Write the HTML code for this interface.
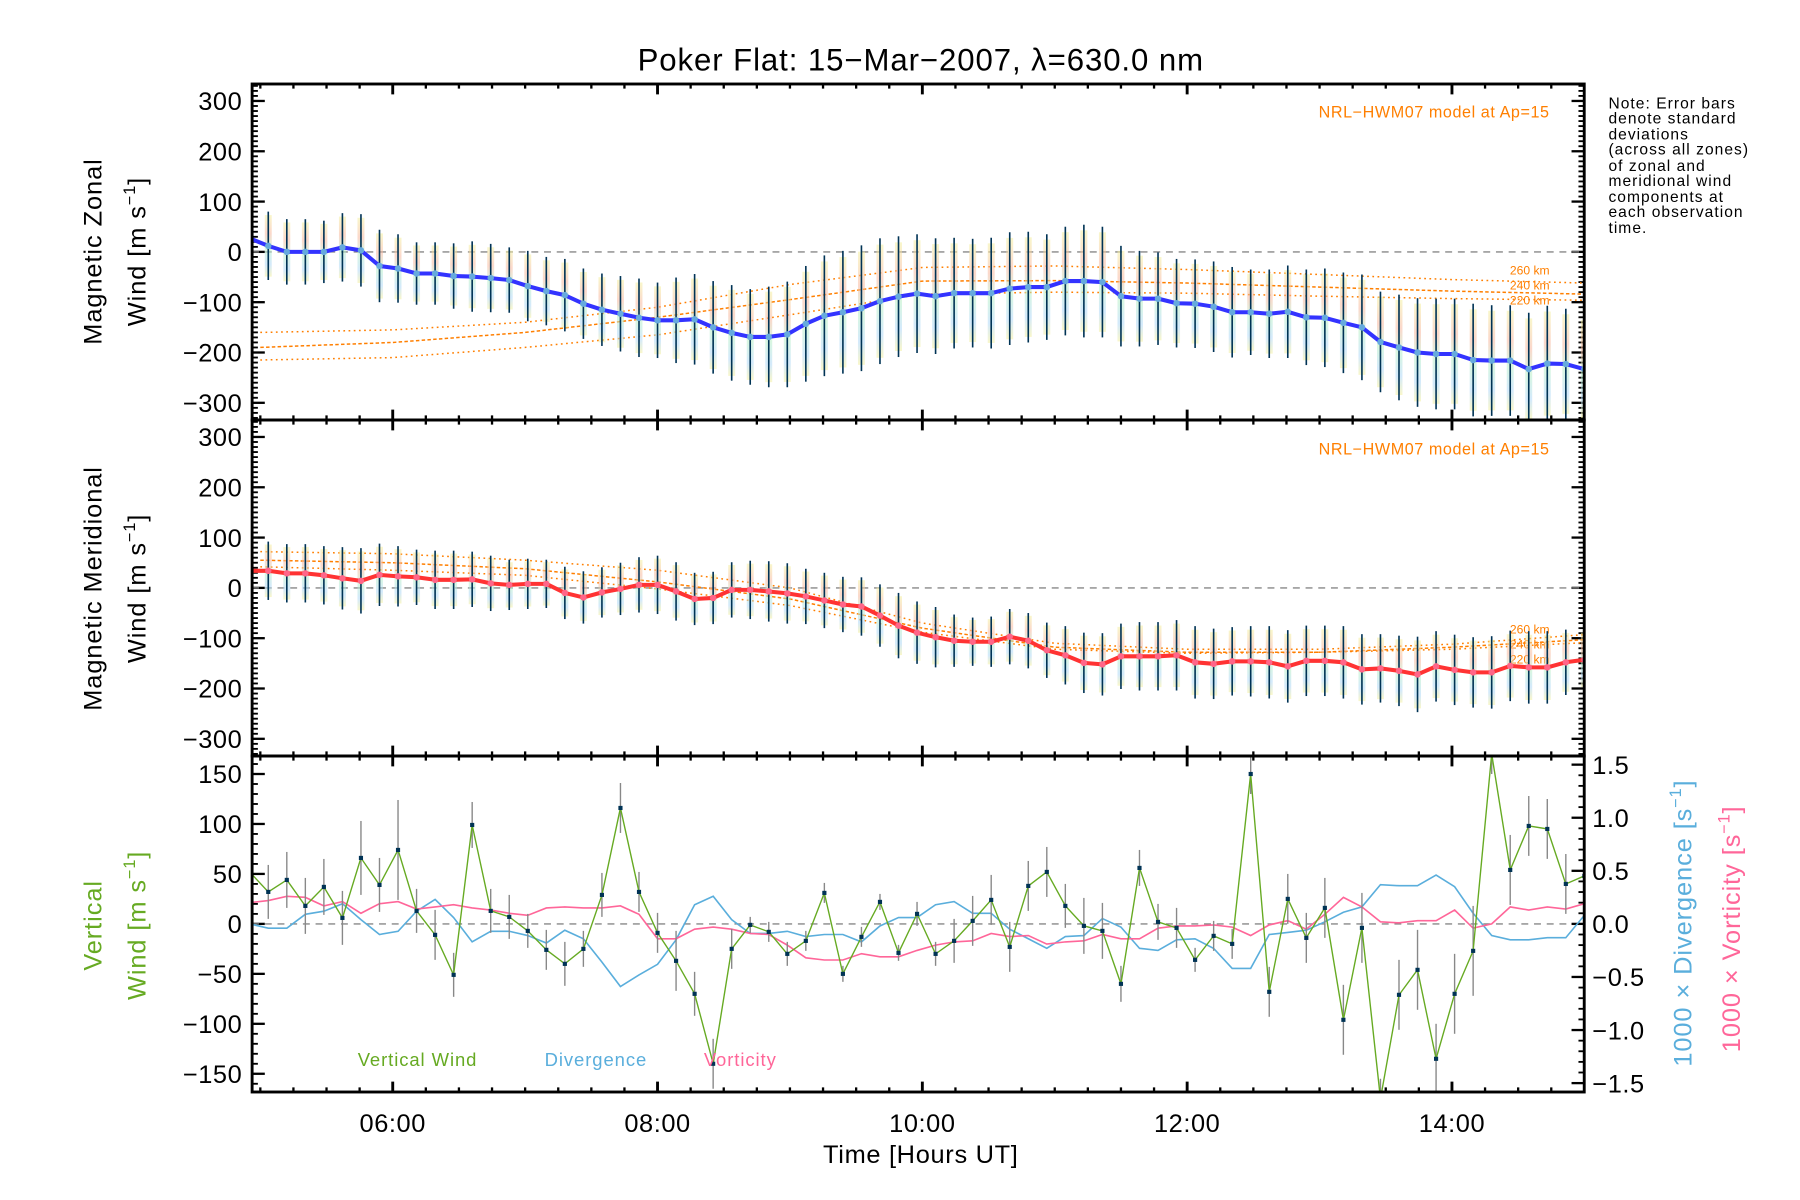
<!DOCTYPE html>
<html><head><meta charset="utf-8"><style>
html,body{margin:0;padding:0;background:#fff;}
svg{display:block;font-family:"Liberation Sans",sans-serif;}
</style></head><body>
<svg id="chart" width="1800" height="1200" viewBox="0 0 1560 1040" xmlns="http://www.w3.org/2000/svg">
<defs>
<linearGradient id="pastel" x1="0" y1="0" x2="0" y2="1">
<stop offset="0" stop-color="#f4f0a0"/><stop offset="0.3" stop-color="#f8b8a0"/><stop offset="0.55" stop-color="#b8f0c8"/><stop offset="0.8" stop-color="#b0d8f8"/><stop offset="1" stop-color="#f4f0a0"/>
</linearGradient>
<clipPath id="c1"><rect x="218.5" y="72.8" width="1154.5" height="291.2"/></clipPath>
<clipPath id="c2"><rect x="218.5" y="364" width="1154.5" height="291.2"/></clipPath>
<clipPath id="c3"><rect x="218.5" y="655.2" width="1154.5" height="291.2"/></clipPath>
</defs>
<text x="798" y="61" font-size="27" text-anchor="middle" letter-spacing="0.8">Poker Flat: 15−Mar−2007, λ=630.0 nm</text>
<g font-size="13.5" letter-spacing="0.9">
<text x="1394" y="94">Note: Error bars</text><text x="1394" y="107">denote standard</text><text x="1394" y="121">deviations</text><text x="1394" y="134">(across all zones)</text><text x="1394" y="148">of zonal and</text><text x="1394" y="161">meridional wind</text><text x="1394" y="175">components at</text><text x="1394" y="188">each observation</text><text x="1394" y="202">time.</text>
</g>
<g id="plots"></g>
<text x="798" y="1008" font-size="22" text-anchor="middle" letter-spacing="0.6">Time [Hours UT]</text>
</svg>
<script>
const times=[4.92,5.06,5.20,5.34,5.48,5.62,5.76,5.90,6.04,6.18,6.32,6.46,6.60,6.74,6.88,7.02,7.16,7.30,7.44,7.58,7.72,7.86,8.00,8.14,8.28,8.42,8.56,8.70,8.84,8.98,9.12,9.26,9.40,9.54,9.68,9.82,9.96,10.10,10.24,10.38,10.52,10.66,10.80,10.94,11.08,11.22,11.36,11.50,11.64,11.78,11.92,12.06,12.20,12.34,12.48,12.62,12.76,12.90,13.04,13.18,13.32,13.46,13.60,13.74,13.88,14.02,14.16,14.30,14.44,14.58,14.72,14.86,15.00];
const zonal=[27,12,0,0,0,9,3,-28,-33,-43,-43,-48,-49,-52,-56,-68,-78,-86,-103,-115,-123,-131,-136,-136,-134,-150,-161,-169,-169,-164,-143,-127,-120,-112,-98,-89,-83,-88,-82,-82,-82,-73,-70,-70,-58,-58,-60,-88,-93,-93,-102,-103,-109,-120,-120,-123,-119,-130,-131,-141,-150,-179,-190,-200,-203,-203,-215,-216,-216,-233,-222,-223,-233];
const zonalErr=[70,68,65,65,62,68,72,72,68,62,62,65,70,68,65,70,68,72,70,72,75,78,75,85,90,92,95,95,100,105,115,120,122,125,125,120,118,115,110,108,110,112,110,105,108,112,110,100,95,92,88,88,90,90,85,88,92,95,98,100,105,100,105,108,110,110,112,110,110,112,115,110,108];
const merid=[34,34,29,29,25,19,14,26,23,21,16,16,17,9,6,8,8,-10,-19,-9,-2,6,6,-7,-22,-20,-4,-4,-7,-11,-17,-25,-33,-37,-55,-75,-89,-98,-105,-107,-107,-97,-105,-124,-134,-149,-152,-136,-136,-136,-134,-148,-151,-146,-146,-148,-156,-145,-145,-148,-162,-160,-165,-172,-156,-163,-168,-168,-155,-158,-158,-148,-143];
const meridErr=[60,58,58,58,58,62,65,62,60,55,58,58,55,55,50,50,48,52,52,50,52,55,58,58,52,52,55,58,60,60,55,55,55,58,62,65,62,60,52,48,50,55,55,55,58,60,62,65,68,68,70,72,70,68,70,72,72,70,70,72,70,68,70,75,70,70,70,72,70,72,72,65,60];
const vert=[52,32,44,18,37,6,66,39,74,13,-11,-51,99,13,7,-7,-26,-40,-25,29,116,32,-9,-37,-70,-140,-25,-1,-8,-30,-17,31,-50,-13,22,-29,10,-30,-17,3,24,-23,38,52,18,-2,-7,-60,56,2,-4,-36,-12,-20,150,-68,25,-14,16,-96,-4,-175,-71,-46,-135,-70,-27,170,54,98,95,40,48];
const vertErr=[22,27,28,28,28,27,37,27,50,22,25,22,23,22,22,17,20,22,18,22,25,20,20,30,22,25,20,8,10,12,10,10,8,10,8,8,12,12,22,25,25,25,25,25,22,28,28,18,18,18,20,12,15,15,20,25,25,25,30,35,35,20,35,40,35,40,45,20,35,30,30,30,30];
const diverg=[0.00,-0.04,-0.04,0.09,0.12,0.19,0.04,-0.10,-0.07,0.12,0.23,0.06,-0.17,-0.07,-0.07,-0.11,-0.18,-0.06,-0.14,-0.36,-0.59,-0.48,-0.38,-0.15,0.18,0.26,0.04,-0.09,-0.09,-0.07,-0.12,-0.10,-0.10,-0.17,-0.02,0.06,0.06,0.18,0.21,0.10,0.10,-0.05,-0.14,-0.23,-0.12,-0.11,0.05,-0.03,-0.23,-0.25,-0.15,-0.14,-0.23,-0.42,-0.42,-0.10,-0.08,-0.06,0.02,0.11,0.16,0.37,0.36,0.36,0.46,0.35,0.10,-0.11,-0.15,-0.15,-0.13,-0.13,0.08];
const vortic=[0.20,0.22,0.26,0.25,0.17,0.21,0.10,0.19,0.21,0.14,0.16,0.18,0.15,0.13,0.10,0.08,0.15,0.16,0.15,0.15,0.17,0.09,-0.14,-0.14,-0.05,-0.03,-0.05,-0.09,-0.10,-0.20,-0.32,-0.34,-0.34,-0.28,-0.31,-0.31,-0.25,-0.20,-0.17,-0.16,-0.09,-0.12,-0.11,-0.19,-0.17,-0.16,-0.10,-0.14,-0.14,-0.04,-0.02,-0.02,-0.01,-0.03,-0.11,-0.01,0.03,-0.05,0.09,0.25,0.16,0.02,0.01,0.03,0.03,0.13,-0.04,0.00,0.16,0.13,0.16,0.14,0.19];
const modelHours=[5,6,7,8,9,10,11,12,13,14,15];
const zonal260=[-160,-155,-140,-110,-65,-31,-28,-35,-45,-55,-62];
const zonal240=[-190,-180,-160,-130,-95,-58,-57,-62,-70,-78,-84];
const zonal220=[-215,-210,-190,-165,-125,-84,-80,-82,-88,-93,-96];
const merid260=[72,68,55,35,0,-70,-110,-122,-122,-112,-93];
const merid240=[55,50,38,12,-22,-80,-118,-128,-128,-118,-103];
const merid220=[42,35,25,-2,-35,-88,-122,-130,-128,-122,-109];
const windTicks=[300,200,100,0,-100,-200,-300];
const vertTicks=[150,100,50,0,-50,-100,-150];
const rightTicks=[1.5,1.0,0.5,0.0,-0.5,-1.0,-1.5];
const hourTicks=[6,8,10,12,14];
const hourLabels=["06:00","08:00","10:00","12:00","14:00"];

const NS="http://www.w3.org/2000/svg";
const root=document.getElementById('plots');
const L=218.5,R=1373;
const T1=72.8,B1=364,B2=655.2,B3=946.4;
const xs=t=>L+(t-4.938)*114.75;
const y1=v=>218.3-v*0.436, y2=v=>509.5-v*0.436, y3=v=>800.7-v*0.866, y3r=v=>800.7-v*92;
function mk(tag,attrs,parent){const e=document.createElementNS(NS,tag);for(const k in attrs)e.setAttribute(k,attrs[k]);(parent||root).appendChild(e);return e;}
function pts(xa,ya,fy){return xa.map((t,i)=>xs(t).toFixed(1)+','+fy(ya[i]).toFixed(1)).join(' ');}

function panel(top,bot,fy,ticks,minorStep,name,rightAxis){
  const g=mk('g',{});
  
  
  const vmax=Math.abs((top-fy(0))/(fy(1)-fy(0)));
  for(let v=-Math.floor(vmax/minorStep)*minorStep;v<=vmax;v+=minorStep){
    const y=fy(v); if(y<top+1||y>bot-1)continue;
    const isMaj=ticks.some(t=>Math.abs(t-v)<1e-6);
    const len=isMaj?11:5;
    mk('line',{x1:L,x2:L+len,y1:y,y2:y,stroke:'#000','stroke-width':isMaj?2:1.6},g);
    if(!rightAxis) mk('line',{x1:R,x2:R-len,y1:y,y2:y,stroke:'#000','stroke-width':isMaj?2:1.6},g);
  }
  ticks.forEach(v=>{const t=mk('text',{x:210,y:fy(v)+8,'font-size':22,'text-anchor':'end','letter-spacing':0.5},g);t.textContent=(v<0?'−':'')+Math.abs(v);});
  for(let h=5;h<=15.01;h+=0.25){
    const x=xs(h); if(x<L+1||x>R-1)continue;
    const maj=Math.abs(h-Math.round(h/2)*2)<1e-6;
    const len=maj?9:4;
    mk('line',{x1:x,x2:x,y1:bot,y2:bot-len,stroke:'#000','stroke-width':maj?2.5:2},g);
    mk('line',{x1:x,x2:x,y1:top,y2:top+len,stroke:'#000','stroke-width':maj?2.5:2},g);
  }
  const zl=mk('line',{x1:L,x2:R,y1:fy(0),y2:fy(0),stroke:'#888','stroke-width':1.2,'stroke-dasharray':'6,5'},g);
  
  
  return g;
}
panel(T1,B1,y1,windTicks,10,'zonal-panel',false);
panel(B1,B2,y2,windTicks,10,'meridional-panel',false);
panel(B2,B3,y3,vertTicks,10,'vertical-panel',true);
const ra=mk('g',{});


for(let v=-1.6;v<=1.61;v+=0.1){const y=y3r(v);if(y<B2+1||y>B3-1)continue;const maj=rightTicks.some(t=>Math.abs(t-v)<1e-6);mk('line',{x1:R,x2:R-(maj?11:5),y1:y,y2:y,stroke:'#000','stroke-width':maj?2:1.6},ra);}
rightTicks.forEach(v=>{const t=mk('text',{x:1380,y:y3r(v)+8,'font-size':22,'letter-spacing':0.5},ra);t.textContent=(v<0?'−':'')+Math.abs(v).toFixed(1);});

function modelLines(arrs,fy,clip,name,labelY){
  const g=mk('g',{'clip-path':'url(#'+clip+')'});
  
  
  arrs.forEach((a,k)=>{const p=mk('polyline',{points:pts(modelHours,a,fy),fill:'none',stroke:'#ff7f00','stroke-width':1.3,'stroke-dasharray':k==1?'3,2':'1.5,3'},g);
    
    });
  ['260 km','240 km','220 km'].forEach((s,k)=>{const t=mk('text',{x:1343,y:labelY+k*13,'font-size':10.5,fill:'#ff7f00','text-anchor':'end'});t.textContent=s;
    
    });
}
function windSeries(vals,errs,fy,clip,lineCol,ptCol,name){
  const g=mk('g',{'clip-path':'url(#'+clip+')'});
  
  
  vals.forEach((v,i)=>{const x=xs(times[i]);
    mk('rect',{x:x-3,y:fy(v+errs[i]*0.9),width:6,height:fy(v-errs[i]*0.9)-fy(v+errs[i]*0.9),fill:'url(#pastel)',opacity:0.55},g);});
  vals.forEach((v,i)=>{const x=xs(times[i]);
    const b=mk('line',{x1:x,x2:x,y1:fy(v+errs[i]),y2:fy(v-errs[i]),stroke:'#003355','stroke-width':1.4},g);
    
    });
  const pl=mk('polyline',{points:pts(times,vals,fy),fill:'none',stroke:lineCol,'stroke-width':3.5,'stroke-linejoin':'round'},g);
  
  
  vals.forEach((v,i)=>{const c=mk('circle',{cx:xs(times[i]),cy:fy(v),r:2.8,fill:ptCol},g);
    
    });
}
modelLines([zonal260,zonal240,zonal220],y1,'c1','zonal-model-lines',238);
windSeries(zonal,zonalErr,y1,'c1','#3333ff','#66aadd','zonal-wind');
modelLines([merid260,merid240,merid220],y2,'c2','meridional-model-lines',549);
windSeries(merid,meridErr,y2,'c2','#ff3333','#ff6688','meridional-wind');

const g3=mk('g',{'clip-path':'url(#c3)'});


const dv=mk('polyline',{points:pts(times,diverg,y3r),fill:'none',stroke:'#5aaedc','stroke-width':1.4},g3);


const vo=mk('polyline',{points:pts(times,vortic,y3r),fill:'none',stroke:'#ff6699','stroke-width':1.4},g3);


vert.forEach((v,i)=>{const x=xs(times[i]);
  const b=mk('line',{x1:x,x2:x,y1:y3(v+vertErr[i]),y2:y3(v-vertErr[i]),stroke:'#888','stroke-width':1.2},g3);
  
  });
const vw=mk('polyline',{points:pts(times,vert,y3),fill:'none',stroke:'#66aa22','stroke-width':1.2},g3);


vert.forEach((v,i)=>{const r=mk('rect',{x:xs(times[i])-1.8,y:y3(v)-1.8,width:3.6,height:3.6,fill:'#003355'},g3);
  
  });

[[T1,B1],[B1,B2],[B2,B3]].forEach(([a,b])=>{const f=mk('rect',{x:L,y:a,width:R-L,height:b-a,fill:'none',stroke:'#000','stroke-width':2.5});
  
  });
hourTicks.forEach((h,i)=>{const t=mk('text',{x:xs(h),y:981,'font-size':22,'text-anchor':'middle','letter-spacing':0.5});t.textContent=hourLabels[i];
  
  });

function vlabel(x,y,html,col,name){const t=mk('text',{x:0,y:0,'font-size':22,'text-anchor':'middle',fill:col,'letter-spacing':0.8,transform:'translate('+x+','+y+') rotate(-90)'});t.innerHTML=html;
  
  }
const unit='Wind [m s<tspan dy="-9" font-size="14">−1</tspan><tspan dy="9">]</tspan>';
vlabel(88,218,'Magnetic Zonal','#000','zonal-y-title');
vlabel(126,218,unit,'#000','zonal-y-unit');
vlabel(88,510,'Magnetic Meridional','#000','meridional-y-title');
vlabel(126,510,unit,'#000','meridional-y-unit');
vlabel(88,802,'Vertical','#66aa22','vertical-y-title');
vlabel(126,802,unit,'#66aa22','vertical-y-unit');
vlabel(1466,800,'1000 × Divergence [s<tspan dy="-9" font-size="14">−1</tspan><tspan dy="9">]</tspan>','#5aaedc','divergence-axis-title');
vlabel(1508,805,'1000 × Vorticity [s<tspan dy="-9" font-size="14">−1</tspan><tspan dy="9">]</tspan>','#ff6699','vorticity-axis-title');
[['NRL−HWM07 model at Ap=15',102],['NRL−HWM07 model at Ap=15',394]].forEach(([s,y])=>{const t=mk('text',{x:1343,y:y,'font-size':14,fill:'#ff7f00','text-anchor':'end','letter-spacing':0.5});t.textContent=s;
  
  });
[['Vertical Wind',310,'#66aa22'],['Divergence',472,'#5aaedc'],['Vorticity',610,'#ff6699']].forEach(([s,x,c])=>{const t=mk('text',{x:x,y:924,'font-size':16,fill:c,'letter-spacing':0.8});t.textContent=s;
  
  });
</script>
</body></html>
